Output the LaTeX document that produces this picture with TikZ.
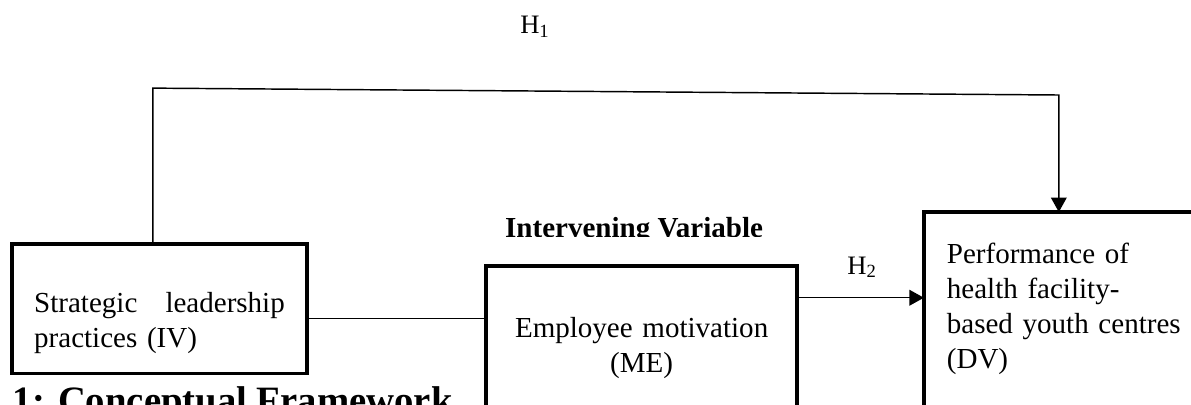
\documentclass[tikz,border=0pt]{standalone}
\usepackage{fontspec}
\setmainfont{Liberation Serif}
\usetikzlibrary{arrows.meta,calc}

\tikzset{
  varbox/.style={draw, rectangle, line width=1.5pt, inner ysep=0pt, outer sep=0pt,
    font=\fontsize{12}{14.5}\selectfont},
  link/.style={line width=0.6pt},
  hyparrow/.style={link, -{Triangle[length=6pt,width=6.5pt]}},
  hyplabel/.style={anchor=base west, inner sep=0pt, font=\fontsize{11}{13}\selectfont},
}

\begin{document}
\begin{tikzpicture}
    \useasboundingbox (0,0) rectangle (17.30,5.88);
    \clip (0,0) rectangle (17.30,5.88);

    % the three variables
    \node[varbox, anchor=north west, inner xsep=9.3pt, text width=3.64cm, align=left,
          text height=28.5pt, text depth=25.2pt] (iv) at (0.17,2.34)
        {Strategic\hfill leadership\\practices (IV)};
    \node[varbox, anchor=north west, inner xsep=0pt, text width=4.52cm, align=center,
          text height=29.8pt, text depth=38pt] (me) at (7.06,2.02)
        {Employee motivation\\(ME)};
    \node[varbox, anchor=north west, inner xsep=9.5pt, text width=3.69cm, align=left,
          text height=21.1pt, text depth=69pt] (dv) at (13.42,2.80)
        {Performance of\\health facility-\\based youth centres\\(DV)};

    % hypotheses
    \coordinate (h1left) at (2.22,4.60);
    \coordinate (h1right) at (15.38,4.50);
    \coordinate (ivme) at (0,1.25);
    \coordinate (meh2) at (0,1.555);
    \draw[hyparrow] (iv.north -| h1left) -- (h1left) -- (h1right) -- (dv.north -| h1right);
    \draw[link] (iv.east |- ivme) -- (me.west |- ivme);
    \draw[hyparrow] (me.east |- meh2) -- (dv.west |- meh2);

    \node[hyplabel] (h1) at (7.55,5.39) {H\textsubscript{1}};
    \node[hyplabel] (h2) at (12.30,1.90) {H\textsubscript{2}};

    \begin{scope}
      \clip (0,2.44) rectangle (17.30,5.88);
      \node[anchor=base, inner sep=0pt, font=\fontsize{12}{14.5}\selectfont\bfseries]
        (inter) at (9.21,2.425) {Intervening Variable};
    \end{scope}
    \node[anchor=base west, inner sep=0pt, font=\fontsize{16}{19}\selectfont\bfseries]
      (caption) at (0.18,-0.12) {1: Conceptual Framework};
\end{tikzpicture}
\end{document}
